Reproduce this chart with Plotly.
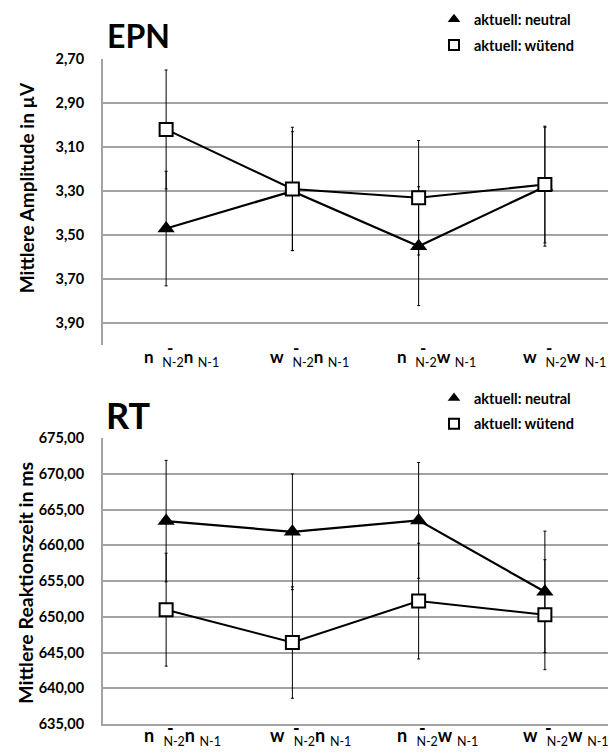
import plotly.graph_objects as go
from plotly.subplots import make_subplots

# ---------------- data ----------------
categories = ["nn", "wn", "nw", "ww"]
cat_first = ["n", "w", "n", "w"]
cat_second = ["n", "n", "w", "w"]

epn_neutral = [3.47, 3.30, 3.55, 3.28]
epn_neutral_err = [0.26, 0.27, 0.27, 0.27]
epn_wuetend = [3.02, 3.29, 3.33, 3.27]
epn_wuetend_err = [0.27, 0.28, 0.26, 0.265]

rt_neutral = [663.4, 661.9, 663.5, 653.5]
rt_neutral_err = [8.5, 8.1, 8.1, 8.5]
rt_wuetend = [651.0, 646.4, 652.2, 650.3]
rt_wuetend_err = [7.9, 7.8, 8.1, 7.7]

epn_ticks = [2.70, 2.90, 3.10, 3.30, 3.50, 3.70, 3.90]
epn_ticktext = ["2,70", "2,90", "3,10", "3,30", "3,50", "3,70", "3,90"]
rt_ticks = [635, 640, 645, 650, 655, 660, 665, 670, 675]
rt_ticktext = ["635,00", "640,00", "645,00", "650,00", "655,00", "660,00",
               "665,00", "670,00", "675,00"]

label_neutral = "aktuell: neutral"
label_wuetend = "aktuell: wütend"

# ---------------- layout helpers ----------------
W, H = 611, 753
ML, MR, MT, MB = 103, 3, 55, 29
PW = W - ML - MR
PH = H - MT - MB
FONT = "Lato"
GRID = "#a3a3a3"


def px_x(p):
    return (p - ML) / PW


def px_y(p):
    return (H - MB - p) / PH


top_dom = [px_y(343), 1.0]
bot_dom = [0.0, px_y(436.5)]

fig = make_subplots(rows=2, cols=1)

err_style = dict(type="data", thickness=1, width=1.5, color="black", visible=True)

# EPN traces
fig.add_trace(go.Scatter(
    x=categories, y=epn_neutral, mode="lines+markers", showlegend=False,
    line=dict(color="black", width=2.2),
    marker=dict(symbol="triangle-up", size=15, color="black"),
    error_y=dict(array=epn_neutral_err, **err_style), cliponaxis=False), row=1, col=1)
fig.add_trace(go.Scatter(
    x=categories, y=epn_wuetend, mode="lines+markers", showlegend=False,
    line=dict(color="black", width=2),
    marker=dict(symbol="square", size=13, color="white", line=dict(color="black", width=2)),
    error_y=dict(array=epn_wuetend_err, **err_style), cliponaxis=False), row=1, col=1)

# RT traces
fig.add_trace(go.Scatter(
    x=categories, y=rt_neutral, mode="lines+markers", showlegend=False,
    line=dict(color="black", width=2.2),
    marker=dict(symbol="triangle-up", size=15, color="black"),
    error_y=dict(array=rt_neutral_err, **err_style), cliponaxis=False), row=2, col=1)
fig.add_trace(go.Scatter(
    x=categories, y=rt_wuetend, mode="lines+markers", showlegend=False,
    line=dict(color="black", width=2),
    marker=dict(symbol="square", size=13, color="white", line=dict(color="black", width=2)),
    error_y=dict(array=rt_wuetend_err, **err_style), cliponaxis=False), row=2, col=1)

# legend-only traces
leg_specs = [
    ("legend", label_neutral, dict(symbol="triangle-up", size=11, color="black")),
    ("legend2", label_wuetend, dict(symbol="square", size=10, color="white", line=dict(color="black", width=2))),
    ("legend3", label_neutral, dict(symbol="triangle-up", size=11, color="black")),
    ("legend4", label_wuetend, dict(symbol="square", size=10, color="white", line=dict(color="black", width=2))),
]
for lg, name, mk in leg_specs:
    fig.add_trace(go.Scatter(x=[None], y=[None], mode="markers", name=name,
                             marker=mk, legend=lg, showlegend=True), row=1, col=1)

leg_common = dict(xanchor="left", yanchor="middle", bgcolor="rgba(0,0,0,0)",
                  font=dict(family=FONT, size=14.5, color="black", weight="bold"),
                  itemwidth=30, borderwidth=0)
leg_x = px_x(434)

fig.update_layout(
    width=W, height=H,
    margin=dict(l=ML, r=MR, t=MT, b=MB),
    paper_bgcolor="white", plot_bgcolor="white",
    font=dict(family=FONT, color="black"),
    legend=dict(x=leg_x, y=px_y(15), **leg_common),
    legend2=dict(x=leg_x, y=px_y(41), **leg_common),
    legend3=dict(x=leg_x, y=px_y(396), **leg_common),
    legend4=dict(x=leg_x, y=px_y(422), **leg_common),
)

xcommon = dict(type="category", categoryorder="array", categoryarray=categories,
               range=[-0.5, 3.5], showticklabels=False, showgrid=False,
               zeroline=False, ticks="")
fig.update_xaxes(domain=[0, 1], showline=False, **xcommon, row=1, col=1)
fig.update_xaxes(domain=[0, 1], showline=True, linecolor=GRID, linewidth=2, **xcommon, row=2, col=1)

ycommon = dict(showgrid=True, gridcolor=GRID, gridwidth=1.5, zeroline=False,
               showline=True, linecolor=GRID, linewidth=2, ticks="",
               ticklabelstandoff=14,
               tickfont=dict(family=FONT, size=14.5, color="black", weight="bold"))
fig.update_yaxes(domain=top_dom, range=[4.0, 2.70], tickmode="array",
                 tickvals=epn_ticks, ticktext=epn_ticktext, **ycommon, row=1, col=1)
fig.update_yaxes(domain=bot_dom, range=[635, 675], tickmode="array",
                 tickvals=rt_ticks, ticktext=rt_ticktext, **ycommon, row=2, col=1)

ann = []
# titles
ann.append(dict(text="<b>EPN</b>", x=px_x(138), y=px_y(31), xref="paper", yref="paper",
                showarrow=False, xanchor="center", yanchor="middle",
                font=dict(family=FONT, size=32, color="black")))
ann.append(dict(text="<b>RT</b>", x=px_x(128), y=px_y(413), xref="paper", yref="paper",
                showarrow=False, xanchor="center", yanchor="middle",
                font=dict(family=FONT, size=36, color="black")))
# y titles
ann.append(dict(text="<b>Mittlere Amplitude in µV</b>", x=px_x(26), y=px_y(185),
                xref="paper", yref="paper", showarrow=False, textangle=-90,
                xanchor="center", yanchor="middle",
                font=dict(family=FONT, size=19, color="black")))
ann.append(dict(text="<b>Mittlere Reaktionszeit in ms</b>", x=px_x(26), y=px_y(582),
                xref="paper", yref="paper", showarrow=False, textangle=-90,
                xanchor="center", yanchor="middle",
                font=dict(family=FONT, size=19.5, color="black")))

# category labels
for xr, ymain, ydash, fs in [("x", 356, 345, 17), ("x2", 737, 728, 18)]:
    for c, f, s in zip(categories, cat_first, cat_second):
        txt = (f"<b>{f}</b>&nbsp;&nbsp;<sub><span style='font-size:12.5px'>N-2</span></sub>"
               f"<b>{s}</b>&nbsp;<sub><span style='font-size:12.5px'>N-1</span></sub>")
        ann.append(dict(text=txt, x=c, xref=xr, y=px_y(ymain), yref="paper",
                        showarrow=False, xanchor="left", yanchor="middle", xshift=-24,
                        font=dict(family=FONT, size=fs, color="black")))
        ann.append(dict(text="<b>-</b>", x=c, xref=xr, y=px_y(ydash), yref="paper",
                        showarrow=False, xanchor="center", yanchor="middle", xshift=4,
                        font=dict(family=FONT, size=fs, color="black")))

fig.update_layout(annotations=ann)

fig.write_html("out.html")
